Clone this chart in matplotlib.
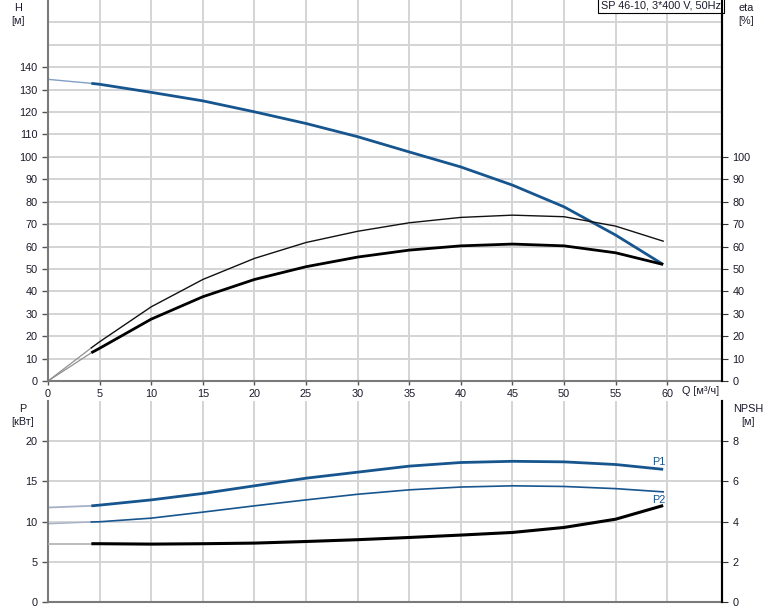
import matplotlib
matplotlib.use("Agg")
import matplotlib.pyplot as plt

plt.rcParams['font.family'] = ['Liberation Sans', 'DejaVu Sans']

# ---- data ----
q_start = [0, 4.2]
q = [4.2, 5, 10, 15, 20, 25, 30, 35, 40, 45, 50, 55, 59.6]

h_start = [134.6, 132.8]
h = [132.8, 132.4, 128.8, 125.0, 120.1, 114.9, 109.0, 102.2, 95.5, 87.4, 77.7, 65.1, 52.0]

eta_start = [0, 14.8]
eta = [14.8, 17.5, 33.1, 45.3, 54.7, 61.8, 66.8, 70.6, 73.0, 74.0, 73.3, 69.1, 62.4]

eta_tot_start = [0, 12.6]
eta_tot = [12.6, 14.6, 27.6, 37.6, 45.3, 51.0, 55.3, 58.4, 60.3, 61.1, 60.3, 57.2, 52.0]

p1_start = [11.75, 11.96]
p1 = [11.96, 12.05, 12.7, 13.5, 14.45, 15.4, 16.15, 16.9, 17.35, 17.5, 17.43, 17.1, 16.5]

p2_start = [9.73, 9.95]
p2 = [9.95, 9.98, 10.43, 11.18, 11.96, 12.7, 13.4, 13.95, 14.3, 14.45, 14.37, 14.1, 13.7]

npsh_start = [2.9, 2.9]
npsh = [2.9, 2.9, 2.88, 2.9, 2.93, 3.01, 3.1, 3.21, 3.33, 3.46, 3.71, 4.12, 4.8]

x_ticks = [0, 5, 10, 15, 20, 25, 30, 35, 40, 45, 50, 55, 60]
h_ticks = [0, 10, 20, 30, 40, 50, 60, 70, 80, 90, 100, 110, 120, 130, 140]
h_extra_grid = [150, 160]
eta_ticks = [0, 10, 20, 30, 40, 50, 60, 70, 80, 90, 100]
p_ticks = [0, 5, 10, 15, 20]
npsh_ticks = [0, 2, 4, 6, 8]

title_text = "SP 46-10, 3*400 V, 50Hz"

# ---- styles ----
BLUE = '#17558f'
GRID = '#d2d4d6'
TXT = '#1a1a2a'
FS = 7.8

fig = plt.figure(figsize=(7.74, 6.11), dpi=100)
W, Hh = 774, 611

def pos(l, t, r, b):
    return [l / W, 1 - b / Hh, (r - l) / W, (b - t) / Hh]

ax1 = fig.add_axes(pos(48, 0, 722, 381))
ax2 = fig.add_axes(pos(48, 401, 722, 602))

XMAX = 65.3

for ax in (ax1, ax2):
    ax.set_xlim(0, XMAX)
    ax.set_xticks(x_ticks)
    ax.grid(True, color=GRID, lw=1.4)
    ax.set_axisbelow(True)
    ax.spines['top'].set_visible(False)
    ax.spines['left'].set_color('#7a7a7a')
    ax.spines['left'].set_linewidth(1.5)
    ax.spines['bottom'].set_color('#7a7a7a')
    ax.spines['bottom'].set_linewidth(1.5)
    ax.spines['right'].set_color('#000000')
    ax.spines['right'].set_linewidth(1.5)
    ax.tick_params(axis='both', labelsize=FS, colors='#555555', labelcolor=TXT,
                   length=4, width=1)

# top axes
ax1.set_ylim(0, 170)
ax1.set_yticks(h_ticks)
for v in h_extra_grid:
    ax1.axhline(v, color=GRID, lw=1.4, zorder=0.5)
ax1.tick_params(axis='x', length=3, pad=3)

ax1r = ax1.twinx()
ax1r.set_ylim(0, 170)
ax1r.set_yticks(eta_ticks)
ax1r.tick_params(axis='y', labelsize=FS, colors='#333333', labelcolor=TXT, length=4)
for s in ('top', 'left', 'bottom'):
    ax1r.spines[s].set_visible(False)
ax1r.spines['right'].set_color('#000000')
ax1r.spines['right'].set_linewidth(1.5)

# curves top
ax1.plot(q_start, h_start, color='#7f9fc4', lw=1.0)
ax1.plot(q, h, color=BLUE, lw=2.0, solid_capstyle='butt', solid_joinstyle='round')
ax1.plot(q_start, eta_start, color='#909090', lw=0.9)
ax1.plot(q, eta, color='#111111', lw=1.0, solid_joinstyle='round')
ax1.plot(q_start, eta_tot_start, color='#909090', lw=0.9)
ax1.plot(q, eta_tot, color='#000000', lw=2.0, solid_capstyle='butt', solid_joinstyle='round')

ax1.text(0.9985, 0.9995, title_text, transform=ax1.transAxes, ha='right', va='top',
         fontsize=FS, color=TXT,
         bbox=dict(boxstyle='square,pad=0.3', fc='white', ec='#000000', lw=0.8))

# bottom axes
ax2.set_ylim(0, 25)
ax2.set_yticks(p_ticks)
ax2.tick_params(axis='x', labelbottom=False, length=0)

ax2r = ax2.twinx()
ax2r.set_ylim(0, 10)
ax2r.set_yticks(npsh_ticks)
ax2r.tick_params(axis='y', labelsize=FS, colors='#333333', labelcolor=TXT, length=4)
for s in ('top', 'left', 'bottom'):
    ax2r.spines[s].set_visible(False)
ax2r.spines['right'].set_color('#000000')
ax2r.spines['right'].set_linewidth(1.5)

ax2.plot(q_start, p1_start, color='#a7b0c8', lw=1.3)
ax2.plot(q, p1, color=BLUE, lw=2.0, solid_capstyle='butt', solid_joinstyle='round')
ax2.plot(q_start, p2_start, color='#a7b0c8', lw=1.0)
ax2.plot(q, p2, color=BLUE, lw=1.2, solid_joinstyle='round')
ax2r.plot(q_start, npsh_start, color='#b0b0b0', lw=1.2)
ax2r.plot(q, npsh, color='#000000', lw=2.2, solid_capstyle='butt', solid_joinstyle='round')

ax2.text(q[-1] + 0.2, p1[-1] + 0.35, 'P1', color=BLUE, fontsize=FS, ha='right', va='bottom')
ax2.text(q[-1] + 0.2, p2[-1] - 0.35, 'P2', color=BLUE, fontsize=FS, ha='right', va='top')

# axis captions
fig.text(18 / W, 1 - 3 / Hh, 'H\n[м]', ha='center', va='top', fontsize=FS, color=TXT, linespacing=1.4)
fig.text(746 / W, 1 - 3 / Hh, 'eta\n[%]', ha='center', va='top', fontsize=FS, color=TXT, linespacing=1.4)
fig.text(23 / W, 1 - 404 / Hh, 'P\n[кВт]', ha='center', va='top', fontsize=FS, color=TXT, linespacing=1.4)
fig.text(748 / W, 1 - 404 / Hh, 'NPSH\n[м]', ha='center', va='top', fontsize=FS, color=TXT, linespacing=1.4)
fig.text(719 / W, 1 - 391 / Hh, 'Q [м³/ч]', ha='right', va='center', fontsize=FS, color=TXT)

fig.savefig('out.png', dpi=100)
